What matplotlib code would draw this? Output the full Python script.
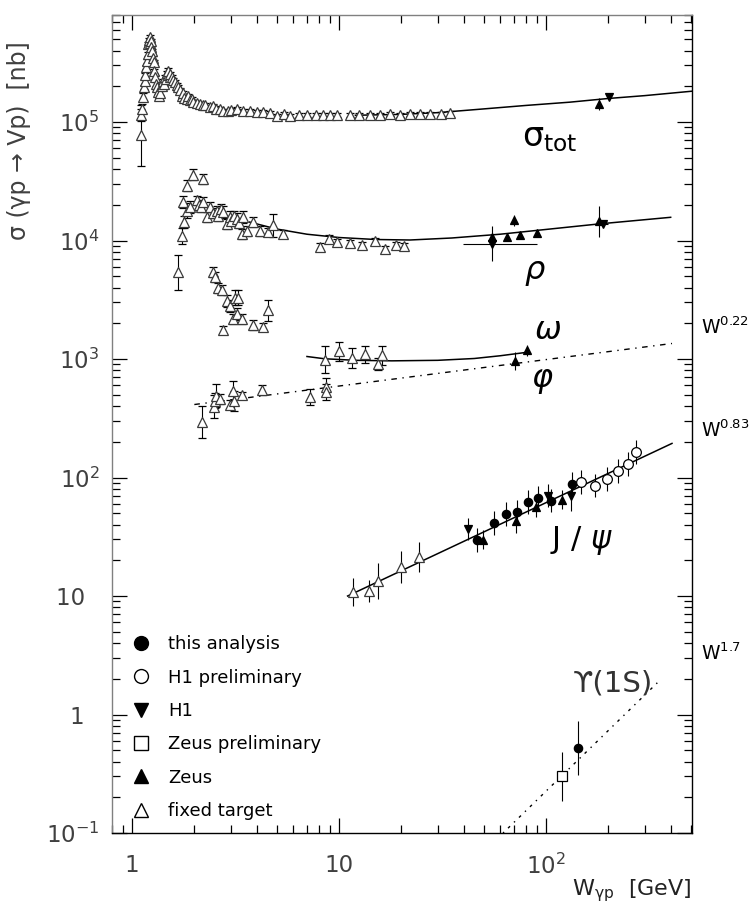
import numpy as np
import matplotlib.pyplot as plt
from matplotlib.lines import Line2D
from matplotlib.ticker import FixedLocator, FixedFormatter, LogLocator, NullFormatter

# ---- sigma_tot : fixed target ----
tot_ft_w = [1.10, 1.11, 1.12, 1.13, 1.14, 1.15, 1.16, 1.17, 1.18, 1.19, 1.20, 1.21,
            1.22, 1.225, 1.23, 1.24, 1.245, 1.26, 1.27, 1.28, 1.29, 1.30, 1.316,
            1.335, 1.355, 1.37, 1.39, 1.41, 1.43, 1.44, 1.46, 1.47, 1.49, 1.50,
            1.52, 1.53, 1.56, 1.58, 1.61, 1.64, 1.67, 1.70, 1.74, 1.77, 1.79, 1.84,
            1.87, 1.90, 1.94, 1.98, 2.05, 2.13, 2.2, 2.25, 2.38, 2.45, 2.55, 2.65,
            2.76, 2.9, 3.0, 3.2, 3.45, 3.72, 4.0, 4.31, 4.65, 5.0, 5.4, 5.8, 6.4,
            7.0, 7.7, 8.4, 9.0, 9.75, 11.3, 12.5, 14.1, 15.8, 17.6, 19.6, 22.0,
            24.5, 27.5, 31.0, 34.4]
tot_ft_s = [7.7e4, 1.15e5, 1.30e5, 1.64e5, 1.97e5, 2.2e5, 2.5e5, 2.9e5, 3.3e5,
            3.76e5, 4.57e5, 4.9e5, 5.2e5, 4.6e5, 4.8e5, 4.3e5, 4.01e5, 3.5e5,
            3.2e5, 2.7e5, 2.39e5, 2.1e5, 1.97e5, 1.8e5, 1.67e5, 1.75e5, 2.03e5,
            2.2e5, 2.1e5, 2.39e5, 2.3e5, 2.6e5, 2.5e5, 2.72e5, 2.4e5, 2.55e5,
            2.39e5, 2.25e5, 2.17e5, 2.05e5, 1.97e5, 1.85e5, 1.67e5, 1.75e5, 1.6e5,
            1.57e5, 1.65e5, 1.52e5, 1.55e5, 1.47e5, 1.45e5, 1.42e5, 1.4e5, 1.38e5,
            1.33e5, 1.36e5, 1.30e5, 1.28e5, 1.25e5, 1.23e5, 1.27e5, 1.29e5, 1.24e5,
            1.25e5, 1.22e5, 1.21e5, 1.18e5, 1.13e5, 1.16e5, 1.13e5, 1.15e5, 1.15e5,
            1.14e5, 1.15e5, 1.14e5, 1.15e5, 1.15e5, 1.14e5, 1.15e5, 1.15e5, 1.16e5,
            1.15e5, 1.16e5, 1.16e5, 1.17e5, 1.17e5, 1.18e5]
tot_ft_f = [1.8, 1.12, 1.1, 1.08] + [1.04] * (len(tot_ft_w) - 4)

# sigma_tot : HERA
tot_zeus_w, tot_zeus_s, tot_zeus_f = [181], [1.41e5], [1.12]
tot_h1_w, tot_h1_s, tot_h1_f = [201], [1.64e5], [1.03]

# ---- rho ----
rho_ft_w = [1.67, 1.74, 1.77, 1.79, 1.84, 1.85, 1.91, 1.98, 2.05, 2.10, 2.15, 2.21,
            2.21, 2.30, 2.38, 2.45, 2.56, 2.60, 2.70, 2.76, 2.87, 2.97, 3.0, 3.1,
            3.2, 3.3, 3.39, 3.45, 3.58, 3.85, 4.16, 4.56, 4.82, 5.38, 8.1, 8.9,
            9.75, 11.3, 12.9, 14.9, 16.7, 18.9, 20.6]
rho_ft_s = [5.4e3, 1.10e4, 2.10e4, 1.43e4, 1.79e4, 2.91e4, 1.91e4, 3.6e4, 2.18e4,
            2.0e4, 1.9e4, 3.31e4, 2.10e4, 1.57e4, 1.91e4, 1.7e4, 1.79e4, 1.6e4,
            1.85e4, 1.73e4, 1.38e4, 1.57e4, 1.45e4, 1.6e4, 1.52e4, 1.4e4, 1.14e4,
            1.57e4, 1.21e4, 1.43e4, 1.21e4, 1.17e4, 1.34e4, 1.14e4, 8.8e3, 1.03e4,
            9.7e3, 9.6e3, 9.25e3, 1.0e4, 8.5e3, 9.25e3, 9.0e3]
rho_ft_f = [1.4, 1.17, 1.12, 1.12, 1.15, 1.12, 1.12, 1.12, 1.1, 1.1, 1.1, 1.1,
            1.1, 1.1, 1.1, 1.1, 1.1, 1.1, 1.1, 1.12, 1.1, 1.12, 1.1, 1.1,
            1.12, 1.1, 1.1, 1.12, 1.1, 1.1, 1.1, 1.08, 1.25, 1.08, 1.08, 1.08,
            1.06, 1.06, 1.06, 1.06, 1.06, 1.06, 1.06]
rho_zeus_w = [54.7, 65.0, 70.0, 74.9, 90.2, 181]
rho_zeus_s = [1.07e4, 1.07e4, 1.48e4, 1.12e4, 1.15e4, 1.45e4]
rho_zeus_f = [1.06, 1.05, 1.12, 1.05, 1.05, 1.35]
rho_h1_w = [54.7, 188]
rho_h1_s = [9.4e3, 1.38e4]
rho_h1_f = [1.4, 1.05]
rho_h1_wlo = [39.7, 178]
rho_h1_whi = [90.5, 200]

# ---- omega ----
om_ft_w = [2.47, 2.52, 2.61, 2.71, 2.76, 2.87, 2.97, 3.09, 3.14, 3.20, 3.26, 3.39,
           3.85, 4.28, 4.52, 8.56, 10.0, 11.6, 13.4, 15.5, 16.2]
om_ft_s = [5.4e3, 4.9e3, 4.0e3, 3.8e3, 1.76e3, 3.1e3, 2.8e3, 2.18e3, 3.3e3, 2.4e3,
           3.3e3, 2.18e3, 1.95e3, 1.88e3, 2.57e3, 985, 1165, 1023, 1092, 911, 1072]
om_ft_f = [1.1, 1.1, 1.1, 1.1, 1.08, 1.12, 1.12, 1.1, 1.15, 1.12, 1.15, 1.1,
           1.1, 1.08, 1.22, 1.3, 1.2, 1.22, 1.17, 1.12, 1.2]
om_zeus_w, om_zeus_s, om_zeus_f = [81], [1180], [1.12]

# ---- phi ----
phi_ft_w = [2.17, 2.49, 2.52, 2.55, 2.66, 2.97, 3.09, 3.11, 3.39, 4.26, 7.25, 8.62, 8.62]
phi_ft_s = [293, 397, 446, 492, 461, 413, 542, 440, 499, 550, 476, 586, 525]
phi_ft_f = [1.36, 1.25, 1.15, 1.25, 1.1, 1.1, 1.2, 1.22, 1.06, 1.1, 1.17, 1.17, 1.17]
phi_zeus_w, phi_zeus_s, phi_zeus_f = [70.8], [960], [1.2]

# ---- J/psi ----
jpsi_ft_w = [11.7, 14.0, 15.5, 19.9, 24.4]
jpsi_ft_s = [10.8, 11.0, 13.3, 17.5, 21.5]
jpsi_ft_f = [1.31, 1.24, 1.42, 1.36, 1.34]
jpsi_h1_w = [42.2, 102, 132]
jpsi_h1_s = [36.9, 70.5, 69.2]
jpsi_h1_f = [1.24, 1.26, 1.33]
jpsi_zeus_w = [49.8, 71.4, 89.5, 120]
jpsi_zeus_s = [29.8, 42.8, 56.1, 64.9]
jpsi_zeus_f = [1.2, 1.26, 1.2, 1.2]
jpsi_this_w = [46.3, 56.3, 64.1, 72.1, 81.6, 91.9, 105.5, 133]
jpsi_this_s = [29.8, 41.1, 49.4, 51.6, 61.9, 66.9, 63.9, 88.5]
jpsi_this_f = [1.26] * len(jpsi_this_w)
jpsi_h1p_w = [147.6, 172.6, 198, 223, 248, 272]
jpsi_h1p_s = [91.3, 85.5, 96.6, 114, 131, 164]
jpsi_h1p_f = [1.26] * len(jpsi_h1p_w)

# ---- Upsilon(1S) ----
ups_zp_w, ups_zp_s, ups_zp_f = [119], [0.30], [1.6]
ups_this_w, ups_this_s, ups_this_f = [143], [0.52], [1.7]

# ---- fit curves ----
tot_fit_w = [12, 20, 30, 50, 80, 130, 200, 300, 507]
tot_fit_s = [1.14e5, 1.16e5, 1.2e5, 1.29e5, 1.38e5, 1.47e5, 1.58e5, 1.67e5, 1.82e5]
rho_fit_w = [3.7, 5, 7, 10, 15, 22, 35, 60, 100, 180, 400]
rho_fit_s = [1.43e4, 1.25e4, 1.13e4, 1.06e4, 1.02e4, 1.01e4, 1.05e4, 1.13e4,
             1.24e4, 1.38e4, 1.57e4]
om_fit_w = [7, 8.5, 12, 18, 30, 45, 60, 81]
om_fit_s = [1050, 1005, 975, 965, 975, 1010, 1065, 1140]
phi_fit_w, phi_fit_s = [2.0, 406], [413, 1352]
jpsi_fit_w, jpsi_fit_s = [11.0, 406], [10.0, 194]
ups_fit_w, ups_fit_s = [62, 350], [0.1, 1.9]

plt.rcParams['font.family'] = ['DejaVu Sans']
plt.rcParams['mathtext.fontset'] = 'dejavusans'

fig = plt.figure(figsize=(7.51, 9.09), dpi=100)
ax = fig.add_axes([0.1491, 0.0836, 0.7723, 0.8999])
ax.set_xscale('log')
ax.set_yscale('log')
ax.set_xlim(0.8, 507)
ax.set_ylim(0.1, 8.0e5)

# curves
ax.plot(tot_fit_w, tot_fit_s, color='k', lw=1.1)
ax.plot(rho_fit_w, rho_fit_s, color='k', lw=1.1)
ax.plot(om_fit_w, om_fit_s, color='k', lw=1.1)
ax.plot(phi_fit_w, phi_fit_s, color='k', lw=1.0, ls=(0, (4, 4, 1, 4)))
ax.plot(jpsi_fit_w, jpsi_fit_s, color='k', lw=1.1)
ax.plot(ups_fit_w, ups_fit_s, color='k', lw=1.0, ls=(0, (1, 4, 2, 4)))


def draw(w, s, f, marker, filled, ms=6, cap=0, xerr=None, mec='k'):
    s = np.asarray(s, dtype=float)
    f = np.asarray(f, dtype=float)
    yerr = [s - s / f, s * f - s]
    ax.errorbar(w, s, yerr=yerr, xerr=xerr, fmt=marker, ms=ms,
                mfc=mec if filled else 'white', mec=mec, mew=0.9,
                ecolor='k', elinewidth=0.8, capsize=cap, capthick=0.8, zorder=3)


ft_col = '#3a3a3a'
draw(tot_ft_w, tot_ft_s, tot_ft_f, '^', False, ms=7, cap=3, mec=ft_col)
draw(rho_ft_w, rho_ft_s, rho_ft_f, '^', False, ms=7, cap=3, mec=ft_col)
draw(om_ft_w, om_ft_s, om_ft_f, '^', False, ms=7, cap=3, mec=ft_col)
draw(phi_ft_w, phi_ft_s, phi_ft_f, '^', False, ms=7, cap=3, mec=ft_col)
draw(jpsi_ft_w, jpsi_ft_s, jpsi_ft_f, '^', False, ms=7, cap=0, mec=ft_col)

draw(tot_zeus_w, tot_zeus_s, tot_zeus_f, '^', True)
draw(tot_h1_w, tot_h1_s, tot_h1_f, 'v', True)
draw(rho_zeus_w, rho_zeus_s, rho_zeus_f, '^', True)
rho_xerr = [np.subtract(rho_h1_w, rho_h1_wlo), np.subtract(rho_h1_whi, rho_h1_w)]
draw(rho_h1_w, rho_h1_s, rho_h1_f, 'v', True, xerr=rho_xerr)
draw(om_zeus_w, om_zeus_s, om_zeus_f, '^', True)
draw(phi_zeus_w, phi_zeus_s, phi_zeus_f, '^', True)

draw(jpsi_h1_w, jpsi_h1_s, jpsi_h1_f, 'v', True)
draw(jpsi_zeus_w, jpsi_zeus_s, jpsi_zeus_f, '^', True)
draw(jpsi_this_w, jpsi_this_s, jpsi_this_f, 'o', True, ms=6)
draw(jpsi_h1p_w, jpsi_h1p_s, jpsi_h1p_f, 'o', False, ms=7)

draw(ups_zp_w, ups_zp_s, ups_zp_f, 's', False, ms=6.5)
draw(ups_this_w, ups_this_s, ups_this_f, 'o', True, ms=6)

# axes styling
ax.spines['left'].set_color('#808080')
ax.spines['top'].set_color('#808080')
for sp in ax.spines.values():
    sp.set_linewidth(1.0)

ax.xaxis.set_major_locator(FixedLocator([1, 10, 100]))
ax.xaxis.set_major_formatter(FixedFormatter(['1', '10', r'$10^{2}$']))
ax.xaxis.set_minor_locator(LogLocator(base=10, subs=np.arange(2, 10)))
ax.xaxis.set_minor_formatter(NullFormatter())
ax.yaxis.set_major_locator(FixedLocator([0.1, 1, 10, 100, 1e3, 1e4, 1e5]))
ax.yaxis.set_major_formatter(FixedFormatter([r'$10^{-1}$', '1  ', '10  ', r'$10^{2}$',
                                             r'$10^{3}$', r'$10^{4}$', r'$10^{5}$']))
ax.yaxis.set_minor_locator(LogLocator(base=10, subs=np.arange(2, 10)))
ax.yaxis.set_minor_formatter(NullFormatter())
ax.tick_params(which='both', direction='in', top=True, right=True,
               labelsize=16.5, labelcolor='#404040', width=0.9)
ax.tick_params(which='major', length=11)
ax.tick_params(which='minor', length=6)
ax.tick_params(axis='x', pad=15)
ax.tick_params(axis='y', pad=9)

ax.set_ylabel('σ (γp → Vp)  [nb]', fontsize=17, color='#404040')
ax.yaxis.set_label_coords(-0.14, 0.847)
ax.text(1.0, -0.071, r'W$_{\mathrm{γp}}$  [GeV]', transform=ax.transAxes,
        ha='right', va='center', fontsize=16, color='#222222')

# curve labels
ax.text(104, 7.4e4, r'$\mathrm{σ}_{\mathrm{tot}}$', fontsize=24, ha='center', va='center')
ax.text(88.5, 5.37e3, r'$\rho$', fontsize=23, ha='center', va='center')
ax.text(102, 1.74e3, r'$\omega$', fontsize=23, ha='center', va='center')
ax.text(95.6, 660, r'$\varphi$', fontsize=23, ha='center', va='center')
ax.text(149, 29.4, r'J / $\psi$', fontsize=22, ha='center', va='center')
ax.text(211, 1.83, 'ϒ(1S)', fontsize=21, ha='center', va='center', color='#333333')

yt = ax.get_yaxis_transform()
for lab, yv in [(r'$\mathrm{W}^{0.22}$', 1845), (r'$\mathrm{W}^{0.83}$', 249),
                (r'$\mathrm{W}^{1.7}$', 3.27)]:
    ax.text(1.016, yv, lab, transform=yt, fontsize=13.5, ha='left', va='center',
            clip_on=False)

handles = [
    Line2D([], [], ls='none', marker='o', ms=10, mfc='k', mec='k'),
    Line2D([], [], ls='none', marker='o', ms=10, mfc='white', mec='k'),
    Line2D([], [], ls='none', marker='v', ms=10, mfc='k', mec='k'),
    Line2D([], [], ls='none', marker='s', ms=10, mfc='white', mec='k'),
    Line2D([], [], ls='none', marker='^', ms=10, mfc='k', mec='k'),
    Line2D([], [], ls='none', marker='^', ms=10, mfc='white', mec='k'),
]
labels = ['this analysis', 'H1 preliminary', 'H1', 'Zeus preliminary', 'Zeus',
          'fixed target']
ax.legend(handles, labels, loc='lower left', bbox_to_anchor=(0.035, 0.016),
          borderaxespad=0, borderpad=0, frameon=False, fontsize=13,
          handlelength=1.0, handletextpad=1.0, labelspacing=0.85)

fig.savefig('out.png', dpi=100)
